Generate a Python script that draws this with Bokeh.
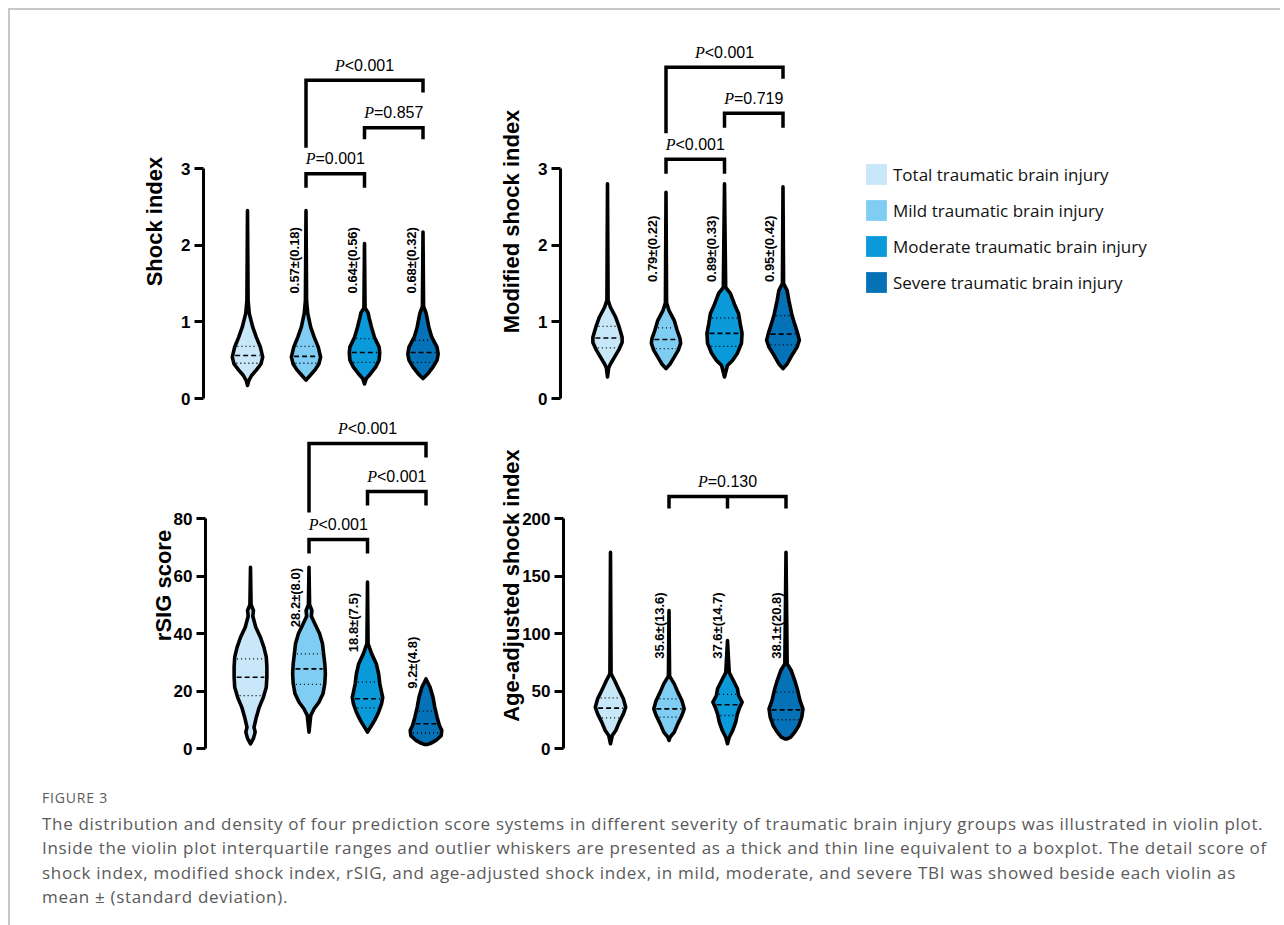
import numpy as np
from bokeh.plotting import figure
from bokeh.models import Range1d, FixedTicker, Legend, LegendItem, Div
from bokeh.layouts import row, column
from bokeh.embed import file_html
from bokeh.resources import INLINE
from bokeh.core.properties import value

# ---------------- data ----------------
groups = ["Total traumatic brain injury", "Mild traumatic brain injury",
          "Moderate traumatic brain injury", "Severe traumatic brain injury"]
colors = ["#c8e7f9", "#7fcdf3", "#0a9ad9", "#0572b8"]

# Shock index: violin outlines (y levels, half-widths in category units), quartiles
si_y = [[0.17, 0.23, 0.30, 0.37, 0.45, 0.54, 0.67, 0.80, 0.93, 1.11, 1.28, 2.45],
        [0.24, 0.30, 0.37, 0.45, 0.54, 0.67, 0.80, 0.93, 1.11, 1.28, 2.45],
        [0.19, 0.26, 0.32, 0.41, 0.50, 0.60, 0.67, 0.80, 0.93, 1.05, 1.12, 1.18, 2.02],
        [0.26, 0.32, 0.41, 0.50, 0.58, 0.67, 0.80, 0.93, 1.05, 1.12, 1.20, 2.17]]
si_w = [[0, 0.02, 0.07, 0.15, 0.23, 0.26, 0.22, 0.15, 0.09, 0.03, 0.01, 0],
        [0, 0.07, 0.15, 0.22, 0.25, 0.21, 0.14, 0.08, 0.03, 0.01, 0],
        [0, 0.03, 0.10, 0.19, 0.25, 0.26, 0.25, 0.17, 0.12, 0.08, 0.06, 0.01, 0],
        [0, 0.08, 0.17, 0.24, 0.26, 0.24, 0.15, 0.10, 0.07, 0.05, 0.01, 0]]
si_q = [(0.46, 0.56, 0.68), (0.46, 0.55, 0.68), (0.47, 0.60, 0.78), (0.47, 0.60, 0.76)]
si_stats = ["0.57±(0.18)", "0.64±(0.56)", "0.68±(0.32)"]
si_stat_y = [1.37, 1.37, 1.37]
si_tests = [(2, 4, 4.15, 3.27, 3.99, "<0.001"),
            (3, 4, 3.53, 3.38, 3.38, "=0.857"),
            (2, 3, 2.93, 2.75, 2.75, "=0.001")]

# Modified shock index
msi_y = [[0.28, 0.40, 0.45, 0.54, 0.63, 0.73, 0.80, 0.93, 1.06, 1.19, 1.28, 2.80],
         [0.39, 0.45, 0.54, 0.63, 0.72, 0.78, 0.89, 1.02, 1.15, 1.25, 2.69],
         [0.28, 0.43, 0.50, 0.59, 0.72, 0.85, 0.97, 1.11, 1.23, 1.37, 1.45, 2.80],
         [0.39, 0.45, 0.56, 0.67, 0.76, 0.85, 0.97, 1.10, 1.28, 1.41, 1.50, 2.76]]
msi_w = [[0, 0.02, 0.05, 0.12, 0.19, 0.25, 0.25, 0.20, 0.14, 0.05, 0.01, 0],
         [0, 0.07, 0.14, 0.21, 0.25, 0.24, 0.19, 0.14, 0.05, 0.01, 0],
         [0, 0.05, 0.14, 0.22, 0.29, 0.30, 0.27, 0.24, 0.17, 0.10, 0.02, 0],
         [0, 0.07, 0.15, 0.24, 0.28, 0.25, 0.20, 0.15, 0.10, 0.07, 0.01, 0]]
msi_q = [(0.66, 0.79, 0.94), (0.65, 0.77, 0.92), (0.68, 0.85, 1.05), (0.70, 0.84, 1.08)]
msi_stats = ["0.79±(0.22)", "0.89±(0.33)", "0.95±(0.42)"]
msi_stat_y = [1.52, 1.52, 1.52]
msi_tests = [(2, 4, 4.32, 3.46, 4.17, "<0.001"),
             (3, 4, 3.72, 3.53, 3.53, "=0.719"),
             (2, 3, 3.12, 2.93, 2.93, "<0.001")]

# rSIG score
rsig_y = [[1.6, 3.5, 5.7, 7.4, 10.9, 14.4, 17.8, 21.3, 24.8, 28.3, 31.8, 35.2, 38.7, 42.2, 46, 48, 50, 63],
          [5.7, 11.5, 13.9, 16.1, 19.1, 22.6, 26, 29.5, 33, 36.5, 40, 43.4, 46, 48, 50, 63],
          [5.7, 7.4, 9.7, 12.6, 15.5, 17.8, 19.6, 22.6, 26, 29.5, 33, 36.5, 57.9],
          [1.4, 1.8, 2.8, 4.5, 6.3, 8, 10.9, 14.4, 17.8, 21.3, 24.2]]
rsig_w = [[0, 0.05, 0.08, 0.06, 0.10, 0.15, 0.22, 0.27, 0.28, 0.28, 0.27, 0.23, 0.17, 0.09, 0.04, 0.05, 0.01, 0],
          [0, 0.03, 0.09, 0.17, 0.24, 0.27, 0.28, 0.27, 0.25, 0.23, 0.18, 0.10, 0.04, 0.05, 0.01, 0],
          [0, 0.05, 0.12, 0.19, 0.24, 0.26, 0.24, 0.21, 0.19, 0.15, 0.07, 0.01, 0],
          [0.02, 0.08, 0.17, 0.26, 0.27, 0.23, 0.19, 0.15, 0.12, 0.07, 0]]
rsig_q = [(18.4, 24.8, 31.2), (22.3, 27.7, 32.9), (14.1, 17.3, 23.1), (5.4, 8.6, 13.0)]
rsig_stats = ["28.2±(8.0)", "18.8±(7.5)", "9.2±(4.8)"]
rsig_stat_y = [42.2, 33.5, 20.8]
rsig_tests = [(2, 4, 106.1, 82.1, 101.2, "<0.001"),
              (3, 4, 89.4, 84.5, 84.5, "<0.001"),
              (2, 3, 72.7, 67.8, 67.8, "<0.001")]

# Age-adjusted shock index
asi_y = [[4.1, 11.3, 15.7, 22.9, 30.1, 35.9, 43.2, 50.4, 59.1, 65, 170.7],
         [7, 9.8, 14.2, 21.4, 28.7, 34.5, 41.7, 49, 56.2, 63, 120],
         [4.1, 9.8, 15.7, 22.9, 30.1, 35.9, 40.3, 46.1, 51.9, 59.1, 66, 75, 93.9],
         [8.4, 9.8, 14.2, 20, 27.2, 34.5, 41.7, 50.4, 59.1, 67.8, 73.6, 170.7]]
asi_w = [[0, 0.03, 0.09, 0.15, 0.22, 0.26, 0.22, 0.15, 0.07, 0.01, 0],
         [0, 0.02, 0.09, 0.15, 0.22, 0.26, 0.22, 0.15, 0.09, 0.01, 0],
         [0, 0.03, 0.09, 0.14, 0.17, 0.21, 0.25, 0.19, 0.17, 0.10, 0.03, 0.02, 0],
         [0.02, 0.08, 0.15, 0.22, 0.27, 0.29, 0.24, 0.20, 0.15, 0.09, 0.02, 0]]
asi_q = [(26.7, 35.1, 44.1), (27.2, 34.5, 43.2), (28.7, 38.0, 47.0), (25.0, 33.6, 49.0)]
asi_stats = ["35.6±(13.6)", "37.6±(14.7)", "38.1±(20.8)"]
asi_stat_y = [78, 78, 78]
asi_tests = [(2, 4, 219.1, 208.7, 208.7, "=0.130")]

caption_title = "FIGURE 3"
caption_lines = [
    "The distribution and density of four prediction score systems in different severity of traumatic brain injury groups was illustrated in violin plot.",
    "Inside the violin plot interquartile ranges and outlier whiskers are presented as a thick and thin line equivalent to a boxplot. The detail score of",
    "shock index, modified shock index, rSIG, and age-adjusted shock index, in mild, moderate, and severe TBI was showed beside each violin as",
    "mean ± (standard deviation).",
]

# ---------------- drawing ----------------
SP = 58.5  # px per category


def panel(vy, vw, vq, stats, stat_y, stat_dx, tests, ylabel, ticks,
          y0_px, ppu, frame_top, frame_bot, fig_top, fig_bot,
          fig_left, axis_x, x1_px, frame_right, fig_right, label_standoff,
          mid_leg=False):
    x_start = 1 - (x1_px - axis_x) / SP
    x_end = x_start + (frame_right - axis_x) / SP
    y_end = (y0_px - frame_top) / ppu
    y_start = -(frame_bot - y0_px) / ppu
    p = figure(x_range=Range1d(x_start, x_end), y_range=Range1d(y_start, y_end),
               frame_width=int(frame_right - axis_x), frame_height=int(frame_bot - frame_top),
               min_border_left=int(axis_x - fig_left), min_border_right=int(fig_right - frame_right),
               min_border_top=int(frame_top - fig_top), min_border_bottom=int(fig_bot - frame_bot),
               x_axis_location=None, toolbar_location=None, output_backend="svg",
               outline_line_color=None)
    p.grid.visible = False
    ax = p.yaxis[0]
    ax.ticker = FixedTicker(ticks=ticks)
    ax.bounds = (ticks[0], ticks[-1])
    ax.axis_line_width = 3
    ax.major_tick_line_width = 3
    ax.major_tick_out = 9
    ax.major_tick_in = 0
    ax.minor_tick_out = 0
    ax.minor_tick_in = 0
    ax.major_label_standoff = 4
    ax.major_label_text_font = "Liberation Sans"
    ax.major_label_text_font_style = "bold"
    ax.major_label_text_font_size = "17px"
    ax.major_label_text_color = "black"
    ax.axis_label = ylabel
    ax.axis_label_text_font = "Liberation Sans"
    ax.axis_label_text_font_style = "bold"
    ax.axis_label_text_font_size = "22px"
    ax.axis_label_text_color = "black"
    ax.axis_label_standoff = label_standoff

    xs, ys = [], []
    for i in range(4):
        c = i + 1
        yy = list(vy[i])
        ww = list(vw[i])
        xs.append([c + w for w in ww] + [c - w for w in ww[::-1]])
        ys.append(yy + yy[::-1])
    p.patches(xs=xs, ys=ys, fill_color=colors, line_color="black", line_width=3.6,
              line_join="round")

    inset = 2.5 / SP
    mx0, mx1, my, qx0, qx1, qy = [], [], [], [], [], []
    for i in range(4):
        c = i + 1
        q1, med, q3 = vq[i]
        hw = float(np.interp(med, vy[i], vw[i])) - inset
        mx0.append(c - hw); mx1.append(c + hw); my.append(med)
        for q in (q1, q3):
            hq = float(np.interp(q, vy[i], vw[i])) - inset
            qx0.append(c - hq); qx1.append(c + hq); qy.append(q)
    p.segment(x0=mx0, y0=my, x1=mx1, y1=my, line_color="black", line_width=1.6, line_dash="5 3")
    p.segment(x0=qx0, y0=qy, x1=qx1, y1=qy, line_color="black", line_width=1.3, line_dash="1 3")

    # mean ± sd labels
    p.text(x=[k + 2 + stat_dx / SP for k in range(3)], y=stat_y, text=stats, angle=np.pi / 2,
           text_align="left", text_baseline="middle", text_font=value("Liberation Sans"),
           text_font_style="bold", text_font_size="13px", text_color="black")

    # significance brackets
    bx, by, lx, ly, lt = [], [], [], [], []
    for (a, b, lev, la, lb, t) in tests:
        bx.append([a, a, b, b]); by.append([la, lev, lev, lb])
        lx.append((a + b) / 2); ly.append(lev + 15 / ppu); lt.append(t)
        if mid_leg:
            m = (a + b) / 2
            bx.append([m, m]); by.append([lev, la])
    p.multi_line(xs=bx, ys=by, line_color="black", line_width=3.5, line_join="miter")
    split = -(0.611 * 16 + 3.086 * 16) / 2 + 0.611 * 16
    p.text(x=lx, y=ly, text=["P"] * len(lx), x_offset=split, text_align="right",
           text_baseline="alphabetic", text_font=value("Liberation Serif"),
           text_font_style="italic", text_font_size="16px", text_color="black")
    p.text(x=lx, y=ly, text=lt, x_offset=split, text_align="left",
           text_baseline="alphabetic", text_font=value("Liberation Sans"),
           text_font_size="16px", text_color="black")
    return p


tl = panel(si_y, si_w, si_q, si_stats, si_stat_y, -12, si_tests, "Shock index", [0, 1, 2, 3],
           398, 230 / 3, 40, 402, 10, 410, 10, 203, 247, 455, 465, 11)
tr = panel(msi_y, msi_w, msi_q, msi_stats, msi_stat_y, -13.5, msi_tests, "Modified shock index",
           [0, 1, 2, 3], 398, 230 / 3, 40, 402, 10, 410, 465, 560, 607, 815, 830, 11)
bl = panel(rsig_y, rsig_w, rsig_q, rsig_stats, rsig_stat_y, -14, rsig_tests, "rSIG score",
           [0, 20, 40, 60, 80], 748, 230 / 80, 418, 752, 410, 770, 10, 205, 250, 455, 465, -5)
br = panel(asi_y, asi_w, asi_q, asi_stats, asi_stat_y, -10, asi_tests, "Age-adjusted shock index",
           [0, 50, 100, 150, 200], 748, 230 / 200, 418, 752, 410, 770, 465, 563, 610, 815, 830, -5,
           mid_leg=True)

# legend panel
lg = figure(x_range=Range1d(0, 1), y_range=Range1d(0, 1), width=440, height=400,
            min_border_left=0, min_border_right=0, min_border_top=0, min_border_bottom=0,
            x_axis_location=None, y_axis_location=None, toolbar_location=None,
            output_backend="svg", outline_line_color=None)
lg.grid.visible = False
items = []
for g, c in zip(groups, colors):
    r = lg.rect(x=[5], y=[5], width=[0.1], height=[0.1], fill_color=c, line_color=None)
    items.append(LegendItem(label=g, renderers=[r]))
legend = Legend(items=items, location=(33, 107), glyph_width=26, glyph_height=26,
                label_standoff=4, spacing=10, padding=0, margin=0,
                border_line_alpha=0, background_fill_alpha=0,
                label_text_font="Open Sans", label_text_font_size="17px",
                label_text_color="#111111")
lg.add_layout(legend)

cap_html = (
    '<div style="font-family:\'Open Sans\'; color:#5a5a5a; padding-left:27px; white-space:nowrap;">'
    f'<div style="font-size:14px; line-height:20px; margin-top:13px; letter-spacing:0.8px;">{caption_title}</div>'
    '<div style="font-size:17px; line-height:24.3px; margin-top:4px; letter-spacing:0.68px;">'
    + "<br>".join(caption_lines) + '</div></div>'
)
cap = Div(text=cap_html, width=1260, height=145)

root = column(row(tl, tr, lg), row(bl, br), cap,
              styles={"border-top": "2px solid #c8c8c8", "border-left": "2px solid #c8c8c8",
                      "margin-top": "8px", "margin-left": "8px"})

open("out.html", "w").write(file_html(root, INLINE, "Figure 3"))
